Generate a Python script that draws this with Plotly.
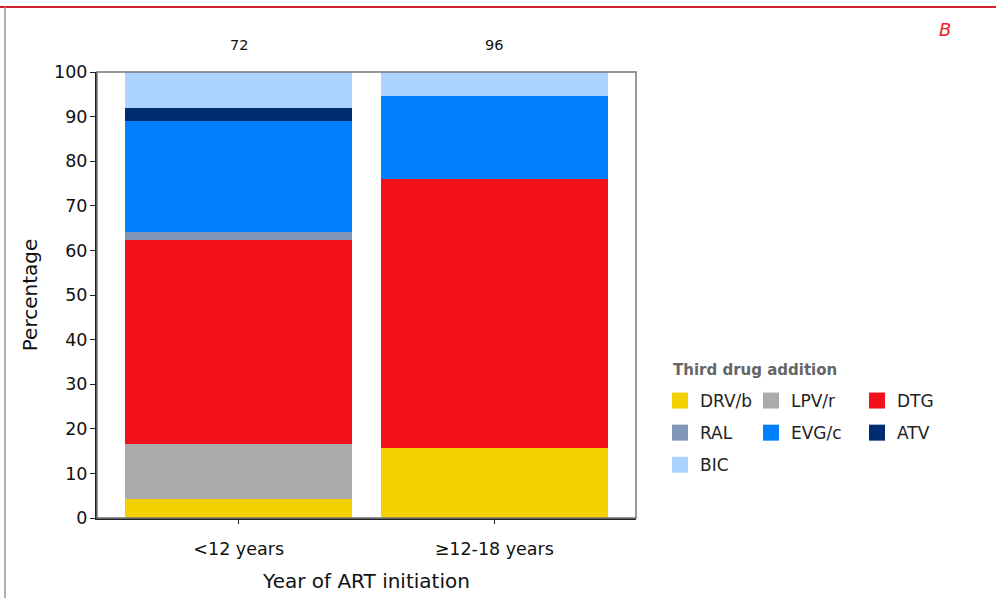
import plotly.graph_objects as go

categories = ["<12 years", "≥12-18 years"]
counts = ["72", "96"]
drugs = ["DRV/b", "LPV/r", "DTG", "RAL", "EVG/c", "ATV", "BIC"]
DRV_b = [4.2, 15.6]
LPV_r = [12.5, 0.0]
DTG = [45.7, 60.5]
RAL = [1.8, 0.0]
EVG_c = [24.8, 18.6]
ATV = [2.9, 0.0]
BIC = [8.1, 5.3]
series = [DRV_b, LPV_r, DTG, RAL, EVG_c, ATV, BIC]
colors = ["#F5D000", "#ABABAB", "#F2111A", "#7F96B8", "#0080FF", "#002D72", "#ADD4FF"]
legend_ids = ["legend", "legend2", "legend3", "legend", "legend2", "legend3", "legend"]

FONT = "DejaVu Sans"
W, H = 996, 598
L, R, T, B = 97, 360, 72, 80
pw, ph = W - L - R, H - T - B

def px_x(px):
    return (px - L) / pw

def px_y(py):
    return (H - B - py) / ph

fig = go.Figure()
for name, vals, col in zip(drugs, series, colors):
    fig.add_trace(go.Bar(x=categories, y=vals, name=name, marker=dict(color=col, line=dict(width=0)),
                         showlegend=False))
for i, (name, col, lg) in enumerate(zip(drugs, colors, legend_ids)):
    fig.add_trace(go.Scatter(x=[None], y=[None], mode="markers", name=name, legend=lg,
                             legendgroup=name,
                             marker=dict(symbol="square", size=16, color=col)))

leg_common = dict(font=dict(family=FONT, size=17, color="#222"), bgcolor="rgba(0,0,0,0)",
                  orientation="v", xanchor="left", yanchor="top", tracegroupgap=7,
                  itemclick=False)
ytop = px_y(383)
fig.update_layout(
    legend=dict(x=px_x(660), y=ytop, **leg_common),
    legend2=dict(x=px_x(751), y=ytop, **leg_common),
    legend3=dict(x=px_x(857), y=ytop, **leg_common),
)

annotations = []
for c, n in zip(categories, counts):
    annotations.append(dict(x=c, y=px_y(45), xref="x", yref="paper", text=n, showarrow=False,
                            xanchor="center", yanchor="middle",
                            font=dict(family=FONT, size=14.5, color="#111")))
annotations.append(dict(x=px_x(671), y=px_y(370), xref="paper", yref="paper", xanchor="left",
                        yanchor="middle",
                        text="<b>Third drug addition</b>", showarrow=False,
                        font=dict(family=FONT, size=15, color="#666")))
annotations.append(dict(x=px_x(945), y=px_y(30), xref="paper", yref="paper",
                        xanchor="center", yanchor="middle",
                        text="<i>B</i>", showarrow=False,
                        font=dict(family=FONT, size=18, color="#E8202A")))

shapes = [
    dict(type="rect", xref="paper", yref="paper", x0=0, x1=1, y0=0, y1=1,
         line=dict(color="#777", width=1.5), layer="above"),
    dict(type="line", xref="paper", yref="paper", x0=px_x(0), x1=px_x(996), y0=px_y(7), y1=px_y(7),
         line=dict(color="#D0202E", width=2)),
    dict(type="line", xref="paper", yref="paper", x0=px_x(5), x1=px_x(5), y0=px_y(7), y1=px_y(600),
         line=dict(color="#999", width=1.5)),
]

fig.update_layout(
    width=W, height=H,
    margin=dict(l=L, r=R, t=T, b=B, autoexpand=False),
    paper_bgcolor="white", plot_bgcolor="white",
    barmode="stack", bargap=0.113,
    font=dict(family=FONT, color="#111"),
    annotations=annotations, shapes=shapes,
    xaxis=dict(range=[-0.5544, 1.5544], showline=True, linecolor="#222", linewidth=2,
               ticks="outside", ticklen=4, tickcolor="#222", ticklabelstandoff=10,
               tickfont=dict(family=FONT, size=17.5, color="#111"),
               title=dict(text="Year of ART initiation", standoff=16,
                          font=dict(family=FONT, size=20, color="#111"))),
    yaxis=dict(range=[0, 100], dtick=10, showline=True, linecolor="#222", linewidth=2,
               ticks="outside", ticklen=5, tickcolor="#222", showgrid=False, zeroline=False,
               ticklabelstandoff=-1,
               tickfont=dict(family=FONT, size=17.5, color="#111"),
               title=dict(text="Percentage", standoff=11,
                          font=dict(family=FONT, size=20, color="#111"))),
)

fig.write_html("out.html", config={"displayModeBar": False},
               post_script="document.body.style.margin='0';document.body.style.overflow='hidden';")
